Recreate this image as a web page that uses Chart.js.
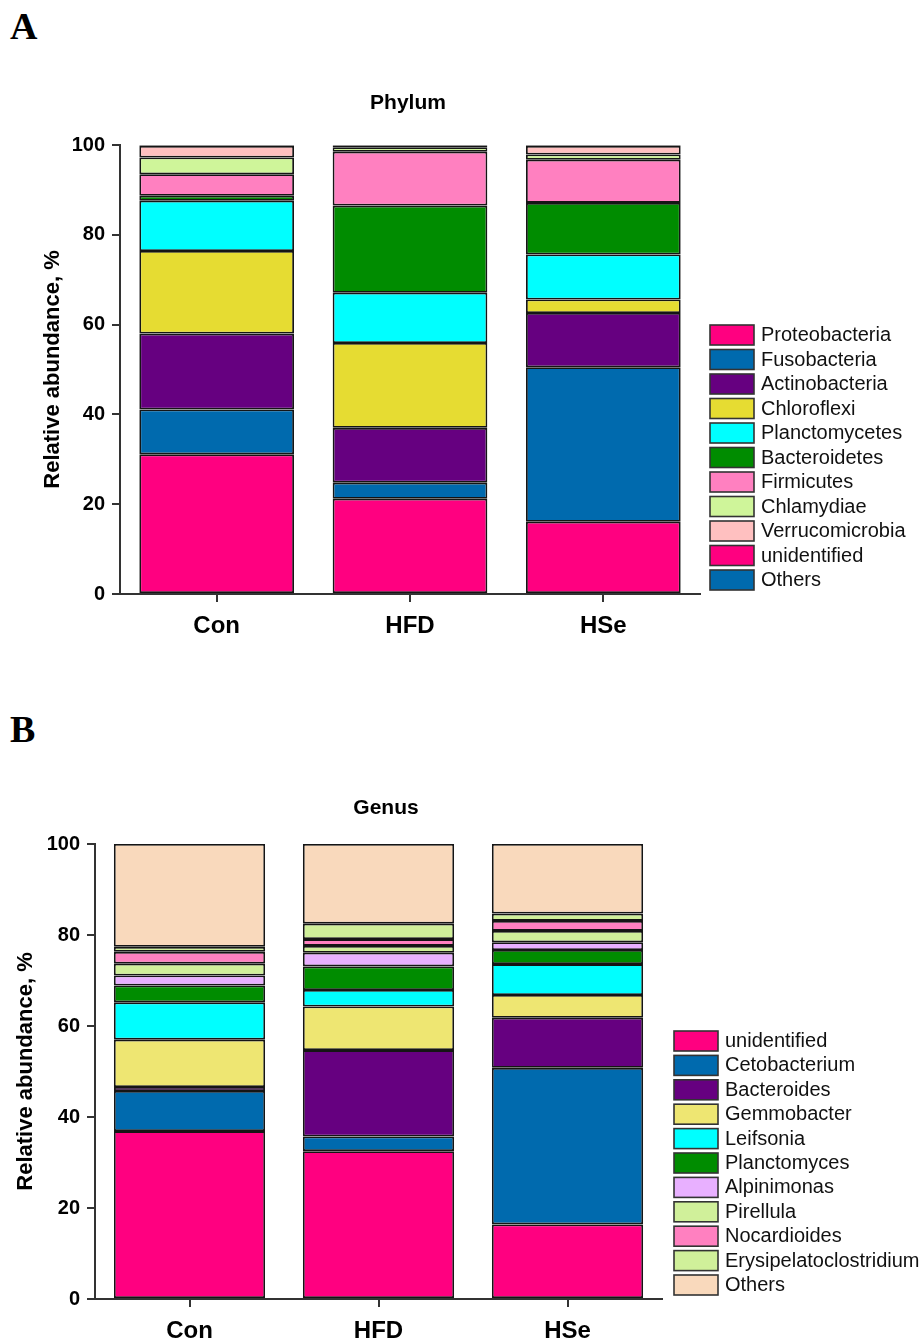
<!DOCTYPE html>
<html>
<head>
<meta charset="utf-8">
<script src="https://cdn.jsdelivr.net/npm/chart.js@4.4.1/dist/chart.umd.min.js"></script>
<style>
  html, body { margin: 0; padding: 0; background: #fff; }
  body { width: 919px; height: 1339px; position: relative; overflow: hidden; }
  .panel { position: absolute; left: 0; width: 919px; }
  .tag { position: absolute; left: 10px; font: bold 38px "Liberation Serif", "Times New Roman", serif; color: #000; }
</style>
</head>
<body>
<div class="tag" style="top: 4px;">A</div>
<div class="tag" style="top: 707px;">B</div>
<div class="panel" style="top: 0; height: 660px;"><canvas id="phylum" width="919" height="660"></canvas></div>
<div class="panel" style="top: 660px; height: 679px;"><canvas id="genus" width="919" height="679"></canvas></div>
<script>
const groups = ['Con', 'HFD', 'HSe'];
const yTicks = [0, 20, 40, 60, 80, 100];

// phylum level, % per group (Con, HFD, HSe)
const phylumNames = ['Proteobacteria', 'Fusobacteria', 'Actinobacteria', 'Chloroflexi', 'Planctomycetes',
    'Bacteroidetes', 'Firmicutes', 'Chlamydiae', 'Verrucomicrobia', 'unidentified', 'Others'];
const proteobacteria = [31.1, 21.2, 16.1];
const fusobacteria = [10.0, 3.6, 34.4];
const actinobacteria = [16.9, 12.2, 12.1];
const chloroflexi = [18.4, 18.9, 3.0];
const planctomycetes = [11.2, 11.2, 10.0];
const bacteroidetes = [1.1, 19.4, 11.5];
const firmicutes = [4.8, 12.0, 9.6];
const chlamydiae = [3.7, 1.0, 1.2];
const verrucomicrobia = [2.6, 0.3, 1.9];
const phylumUnidentified = [0.1, 0.1, 0.1];
const phylumOthers = [0.1, 0.1, 0.1];
const phylumColors = ['#FF0080', '#006AAE', '#660080', '#E6DC32', '#00FFFF',
    '#008C00', '#FF80C0', '#CFF59A', '#FFC0C0', '#FF0080', '#006AAE'];

// genus level
const genusNames = ['unidentified', 'Cetobacterium', 'Bacteroides', 'Gemmobacter', 'Leifsonia', 'Planctomyces',
    'Alpinimonas', 'Pirellula', 'Nocardioides', 'Erysipelatoclostridium', 'Others'];
const genusUnidentified = [36.9, 32.5, 16.4];
const cetobacterium = [8.8, 3.2, 34.4];
const bacteroides = [0.9, 19.0, 11.0];
const gemmobacter = [10.4, 9.6, 5.0];
const leifsonia = [8.2, 3.6, 6.8];
const planctomyces = [3.7, 5.2, 3.1];
const alpinimonas = [2.2, 3.0, 1.7];
const pirellula = [2.6, 1.5, 2.5];
const nocardioides = [2.6, 1.5, 2.2];
const erysipelatoclostridium = [1.1, 3.4, 1.6];
const genusOthers = [22.6, 17.5, 15.3];
const genusColors = ['#FF0080', '#006AAE', '#660080', '#EEE672', '#00FFFF', '#008C00',
    '#E8B0FF', '#D0F09A', '#FF80C0', '#D0F09A', '#F9D9BC'];

const phylumSeries = [proteobacteria, fusobacteria, actinobacteria, chloroflexi, planctomycetes,
    bacteroidetes, firmicutes, chlamydiae, verrucomicrobia, phylumUnidentified, phylumOthers];
const genusSeries = [genusUnidentified, cetobacterium, bacteroides, gemmobacter, leifsonia, planctomyces,
    alpinimonas, pirellula, nocardioides, erysipelatoclostridium, genusOthers];

const FONT = '"Liberation Sans", Arial, sans-serif';
Chart.defaults.font.family = FONT;
Chart.defaults.color = '#000';

// title + legend drawn next to the plot, like the figure
const panelDecor = {
    id: 'panelDecor',
    afterDraw(chart, args, opts) {
        const ctx = chart.ctx;
        ctx.save();
        ctx.fillStyle = '#000';
        ctx.font = 'bold 21px ' + FONT;
        ctx.textAlign = 'center';
        ctx.textBaseline = 'alphabetic';
        ctx.fillText(opts.title, opts.titleX, opts.titleY);

        ctx.font = '20px ' + FONT;
        ctx.textAlign = 'left';
        ctx.textBaseline = 'middle';
        chart.data.datasets.forEach((ds, i) => {
            const y = opts.legendTop + i * opts.pitch;
            ctx.fillStyle = ds.backgroundColor;
            ctx.fillRect(opts.legendX, y, 44, 20);
            ctx.strokeStyle = '#333';
            ctx.lineWidth = 1.6;
            ctx.strokeRect(opts.legendX, y, 44, 20);
            ctx.fillStyle = '#111';
            ctx.fillText(ds.label, opts.legendX + 51, y + 10.5);
        });
        ctx.restore();
    }
};

function makeChart(id, names, series, colors, cfg) {
    return new Chart(document.getElementById(id).getContext('2d'), {
        type: 'bar',
        data: {
            labels: groups,
            datasets: names.map((name, i) => ({
                label: name,
                data: series[i],
                backgroundColor: colors[i],
                borderColor: '#151515',
                borderWidth: 1.8,
                borderSkipped: false,
                barPercentage: 1,
                categoryPercentage: 0.8
            }))
        },
        options: {
            responsive: false,
            animation: false,
            layout: { padding: cfg.padding },
            plugins: {
                legend: { display: false },
                tooltip: { enabled: false },
                panelDecor: cfg.decor
            },
            scales: {
                x: {
                    stacked: true,
                    afterFit: s => { s.height = cfg.xHeight; },
                    border: { display: true, color: '#333', width: 2 },
                    grid: { display: true, drawOnChartArea: false, offset: false, tickLength: 8, color: '#333', lineWidth: 2 },
                    ticks: { padding: 10, font: { size: 24, weight: 'bold' }, color: '#000' }
                },
                y: {
                    stacked: true,
                    min: 0,
                    max: 100,
                    afterFit: s => { s.width = cfg.yWidth; },
                    afterBuildTicks: s => { s.ticks = yTicks.map(v => ({ value: v })); },
                    border: { display: true, color: '#333', width: 2 },
                    grid: { display: true, drawOnChartArea: false, tickLength: 8, color: '#333', lineWidth: 2 },
                    ticks: { padding: 7, font: { size: 20, weight: 'bold' }, color: '#000' },
                    title: {
                        display: true,
                        text: 'Relative abundance, %',
                        padding: 0,
                        font: { size: 22, weight: 'bold' },
                        color: '#000'
                    }
                }
            }
        },
        plugins: [panelDecor]
    });
}

makeChart('phylum', phylumNames, phylumSeries, phylumColors, {
    padding: { top: 145, left: 40, right: 219, bottom: 0 },
    xHeight: 66,
    yWidth: 80,
    decor: { title: 'Phylum', titleX: 408, titleY: 109, legendX: 710, legendTop: 325, pitch: 24.5 }
});

makeChart('genus', genusNames, genusSeries, genusColors, {
    padding: { top: 184, left: 13, right: 257, bottom: 0 },
    xHeight: 40,
    yWidth: 82,
    decor: { title: 'Genus', titleX: 386, titleY: 154, legendX: 674, legendTop: 371, pitch: 24.4 }
});
</script>
</body>
</html>
